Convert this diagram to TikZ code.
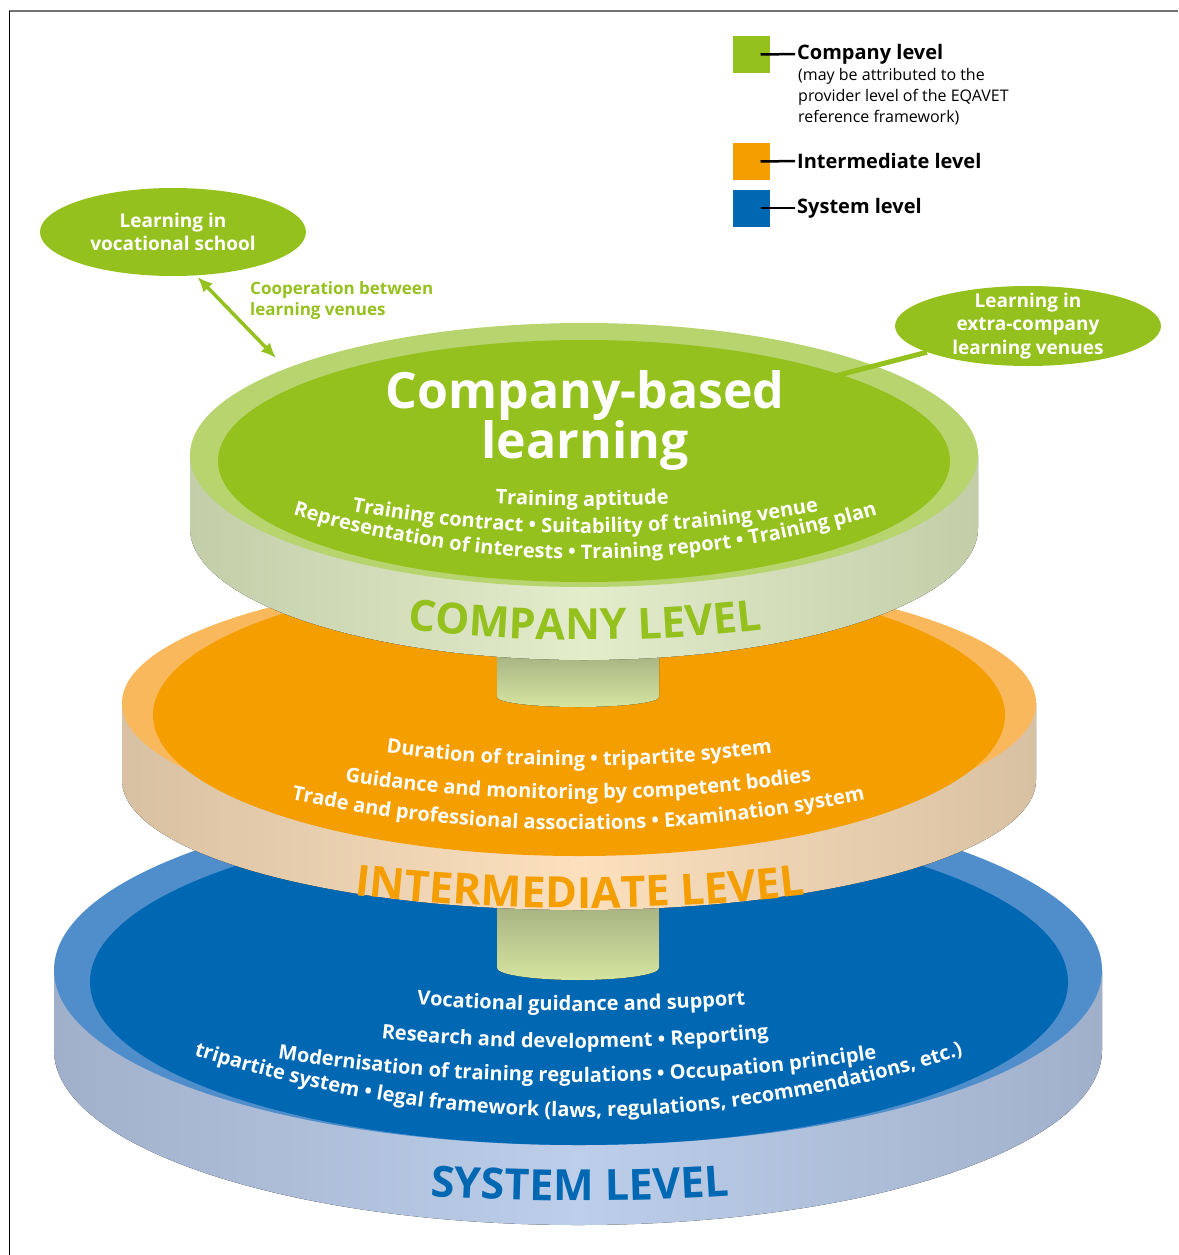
\documentclass[tikz,border=0pt]{standalone}
\usepackage{fontspec}
\setmainfont{Open Sans}
\usetikzlibrary{shapes.geometric, decorations.text, positioning, arrows.meta}
\tikzset{>={Latex[length=15pt, width=13pt]}}

\definecolor{cgreen}{HTML}{95C11F}
\definecolor{grim}{HTML}{B8D46F}
\definecolor{gside}{HTML}{C3CEA9}
\definecolor{gsidemid}{HTML}{E3ECCB}
\definecolor{corange}{HTML}{F49E00}
\definecolor{orim}{HTML}{FAB85C}
\definecolor{oside}{HTML}{D8C1A2}
\definecolor{osidemid}{HTML}{FCE0BE}
\definecolor{cblue}{HTML}{0068B3}
\definecolor{brim}{HTML}{4F8DCB}
\definecolor{bside}{HTML}{A1B0CA}
\definecolor{bsidemid}{HTML}{BCCEEA}
\definecolor{stemtop}{HTML}{A3AF80}
\definecolor{stembot}{HTML}{D5E4A0}

\newcommand{\arcfont}{\bfseries\fontsize{20}{20}\selectfont}
\newcommand{\lvlfont}{\bfseries\fontsize{43}{43}\selectfont}

\tikzset{
  bubble/.style={ellipse, fill=cgreen, text=white, align=center, inner sep=0pt,
    font=\bfseries\fontsize{19}{23.5}\selectfont},
  title/.style={text=white, align=center, inner sep=0pt,
    font=\bfseries\fontsize{50}{50}\selectfont},
  coop/.style={text=cgreen, align=left, inner sep=0pt,
    font=\bfseries\fontsize{17}{21}\selectfont},
  legsq/.style={minimum size=37pt, inner sep=0pt},
  legtxt/.style={inner sep=0pt, font=\bfseries\fontsize{20}{22}\selectfont},
  legsub/.style={inner sep=0pt, align=left, font=\fontsize{16}{21}\selectfont},
  legline/.style={line width=2.5pt, shorten >=2pt},
  onarc/.style 2 args={decorate, decoration={text along path, text align=center,
    text color=#1, text={#2}}},
}

\begin{document}
\begin{tikzpicture}[x=1pt, y=1pt]
  \useasboundingbox (0,0) rectangle (1178,-1255);
  % frame
  \draw[line width=2pt, black!55] (9,-11) -- (1178,-11);
  \draw[line width=1pt] (9,-11) -- (9,-1255);

  % system level disk
  \fill[left color=bside, right color=bside, middle color=bsidemid] (54,-970) -- (54,-1050)
    arc[start angle=180, end angle=360, x radius=524, y radius=175] -- (1102,-970) -- cycle;
  \fill[brim] (578,-970) ellipse[x radius=524, y radius=175];
  \fill[cblue] (579,-982) ellipse[x radius=489, y radius=163];
  \path[onarc={white}{|\arcfont|Vocational guidance and support}]
    (341,-997) .. controls (501,-1015.7) and (661,-1015.7) .. (821,-997);
  \path[onarc={white}{|\arcfont|Research and development • Reporting}]
    (315,-1030) .. controls (488.3,-1054) and (661.7,-1054) .. (835,-1030);
  \path[onarc={white}{|\arcfont|Modernisation of training regulations • Occupation principle}]
    (227,-1050) .. controls (460.3,-1092.7) and (693.7,-1092.7) .. (927,-1050);
  \path[onarc={white}{|\arcfont|tripartite system • legal framework (laws, regulations, recommendations, etc.)}]
    (158,-1043) .. controls (438,-1141.7) and (718,-1141.7) .. (998,-1043);
  \path[onarc={cblue}{|\lvlfont|SYSTEM LEVEL}]
    (320,-1186) .. controls (493.3,-1206) and (666.7,-1206) .. (840,-1186);

  % stem
  \fill[top color=stemtop, bottom color=stembot] (497,-900) -- (497,-968)
    arc[start angle=180, end angle=360, x radius=81, y radius=12] -- (659,-900) -- cycle;

  % intermediate level disk
  \fill[left color=oside, right color=oside, middle color=osidemid] (122,-703) -- (122,-780)
    arc[start angle=180, end angle=360, x radius=457, y radius=130] -- (1036,-703) -- cycle;
  \fill[orim] (579,-703) ellipse[x radius=457, y radius=130];
  \fill[corange] (579,-715) ellipse[x radius=426, y radius=141];
  \path[onarc={white}{|\arcfont|Duration of training • tripartite system}]
    (319,-742) .. controls (492.3,-774) and (665.7,-774) .. (839,-742);
  \path[onarc={white}{|\arcfont|Guidance and monitoring by competent bodies}]
    (278,-770) .. controls (478,-808.7) and (678,-808.7) .. (878,-770);
  \path[onarc={white}{|\arcfont|Trade and professional associations • Examination system}]
    (238,-787) .. controls (464.7,-844.3) and (691.3,-844.3) .. (918,-787);
  \path[onarc={corange}{|\lvlfont|INTERMEDIATE LEVEL}]
    (280,-885) .. controls (480,-915.7) and (680,-915.7) .. (880,-885);

  % stem
  \fill[top color=stemtop, bottom color=stembot] (497,-650) -- (497,-697)
    arc[start angle=180, end angle=360, x radius=81, y radius=10] -- (659,-650) -- cycle;

  % company level disk
  \fill[left color=gside, right color=gside, middle color=gsidemid] (190,-455) -- (190,-528)
    arc[start angle=180, end angle=360, x radius=394, y radius=132] -- (978,-455) -- cycle;
  \fill[grim] (584,-455) ellipse[x radius=394, y radius=132];
  \fill[cgreen] (584,-461) ellipse[x radius=366, y radius=121];
  \node[title] (cbl) at (585,-421) {Company-based\\learning};
  \path[onarc={white}{|\arcfont|Training aptitude}]
    (382,-494) .. controls (515.3,-510) and (648.7,-510) .. (782,-494);
  \path[onarc={white}{|\arcfont|Training contract • Suitability of training venue}]
    (285,-497) .. controls (485,-545) and (685,-545) .. (885,-497);
  \path[onarc={white}{|\arcfont|Representation of interests • Training report • Training plan}]
    (245,-499) .. controls (471.7,-579) and (698.3,-579) .. (925,-499);
  \path[onarc={cgreen}{|\lvlfont|COMPANY LEVEL}]
    (325,-618) .. controls (498.3,-647.3) and (671.7,-647.3) .. (845,-618);

  % learning venues
  \node[bubble, minimum width=266pt, minimum height=88pt] (school) at (173,-232) {Learning in\\vocational school};
  \coordinate (coopend) at (276,-358);
  \draw[<->, line width=3.5pt, cgreen, shorten <=2pt] (school.298) -- (coopend);
  \node[coop, anchor=north west] (cooptxt) at (250,-281) {Cooperation between\\learning venues};
  \node[bubble, minimum width=266pt, minimum height=80pt, inner ysep=-8pt] (extra) at (1028,-326) {Learning in\\extra-company\\learning venues};
  \coordinate (extraend) at (835,-376);
  \draw[line width=5pt, cgreen] (extra) -- (extraend);

  % legend
  \node[legsq, fill=cgreen] (gsq) at (751.5,-54.5) {};
  \node[legtxt, anchor=west] (gtxt) at (797,-54) {Company level};
  \draw[legline] ([xshift=9pt]gsq.center) -- (gtxt.west);
  \node[legsub, anchor=north west] (gsub) at (798,-68) {(may be attributed to the\\provider level of the EQAVET\\reference framework)};
  \node[legsq, fill=corange] (osq) at (751.5,-161.5) {};
  \node[legtxt, anchor=west] (otxt) at (797,-161) {Intermediate level};
  \draw[legline] ([xshift=9pt]osq.center) -- (otxt.west);
  \node[legsq, fill=cblue] (bsq) at (751.5,-208) {};
  \node[legtxt, anchor=west] (btxt) at (797,-208) {System level};
  \draw[legline] ([xshift=9pt]bsq.center) -- (btxt.west);
\end{tikzpicture}
\end{document}
